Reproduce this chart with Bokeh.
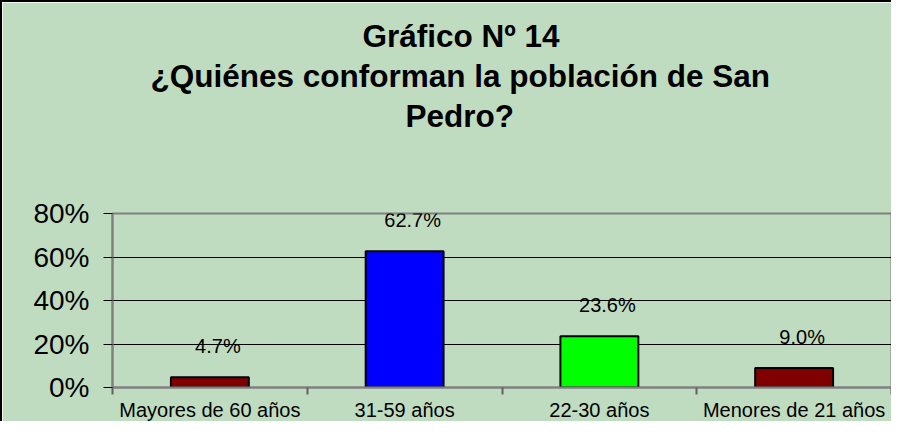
import numpy as np
from bokeh.plotting import figure
from bokeh.models import Title, FixedTicker, ColumnDataSource, Range1d
from bokeh.core.properties import value
from bokeh.embed import file_html
from bokeh.resources import INLINE

categories = ["Mayores de 60 años", "31-59 años", "22-30 años", "Menores de 21 años"]
values = [4.7, 62.7, 23.6, 9.0]
bar_colors = ["#800000", "#0000FF", "#00FF00", "#800000"]
bar_labels = ["4.7%", "62.7%", "23.6%", "9.0%"]
yticks = [0, 20, 40, 60, 80]
ytick_labels = ["0%", "20%", "40%", "60%", "80%"]
title_lines = ["Gráfico Nº 14", "¿Quiénes conforman la población de San", "Pedro?"]

BG = "#C0DCC0"
FONT = "Liberation Sans"

xs = np.arange(len(categories)) + 0.5
src = ColumnDataSource(dict(x=xs, top=values, color=bar_colors, label=bar_labels))

p = figure(width=891, height=421, output_backend="svg", toolbar_location=None,
           x_range=Range1d(0, len(categories)), y_range=Range1d(0, 80),
           background_fill_color=BG, border_fill_color=BG,
           min_border_left=110, min_border_right=2, min_border_top=211, min_border_bottom=33)
p.styles = {"border-left": "2px solid black", "border-top": "2px solid black", "box-sizing": "border-box"}

# spacer between plot area and the title block
p.add_layout(Title(text=" ", text_font_size="1px", standoff=76), "above")
# title lines, added from nearest to farthest; left offsets relative to plot area
title_offsets = {"Pedro?": 293, "¿Quiénes conforman la población de San": 38, "Gráfico Nº 14": 250}
for txt in reversed(title_lines):
    p.add_layout(Title(text=txt, align="left", offset=title_offsets[txt], standoff=2,
                       text_font=FONT, text_font_size="31.5px", text_font_style="bold",
                       text_color="black"), "above")

p.vbar(x="x", top="top", width=0.4, fill_color="color", line_color="black", line_width=2, source=src)
p.text(x="x", y="top", text="label", source=src, x_offset=8, y_offset=-31,
       text_align="center", text_baseline="middle", text_font=value(FONT),
       text_font_size="20px", text_color="black")

p.outline_line_color = "#808080"
p.outline_line_width = 2

p.xgrid.visible = False
p.ygrid.grid_line_color = "black"
p.ygrid.grid_line_width = 1
p.ygrid.ticker = FixedTicker(ticks=yticks)

ya = p.yaxis[0]
ya.ticker = FixedTicker(ticks=yticks)
ya.major_label_overrides = {t: l for t, l in zip(yticks, ytick_labels)}
ya.axis_line_color = "#808080"
ya.axis_line_width = 2
ya.major_tick_out = 9
ya.major_tick_in = 0
ya.major_tick_line_color = "black"
ya.minor_tick_line_color = None
ya.major_label_standoff = 14
ya.major_label_text_font = FONT
ya.major_label_text_font_size = "28px"
ya.major_label_text_color = "black"

xa = p.xaxis[0]
xa.ticker = FixedTicker(ticks=list(xs), minor_ticks=list(range(len(categories) + 1)))
xa.major_label_overrides = {float(x): c for x, c in zip(xs, categories)}
xa.axis_line_color = "#808080"
xa.axis_line_width = 2
xa.major_tick_line_color = None
xa.major_tick_out = 7
xa.major_tick_in = 0
xa.minor_tick_line_color = "#606060"
xa.minor_tick_line_width = 2
xa.minor_tick_out = 7
xa.minor_tick_in = 0
xa.major_label_standoff = 4
xa.major_label_text_font = FONT
xa.major_label_text_font_size = "20px"
xa.major_label_text_color = "black"

open("out.html", "w").write(file_html(p, INLINE))
